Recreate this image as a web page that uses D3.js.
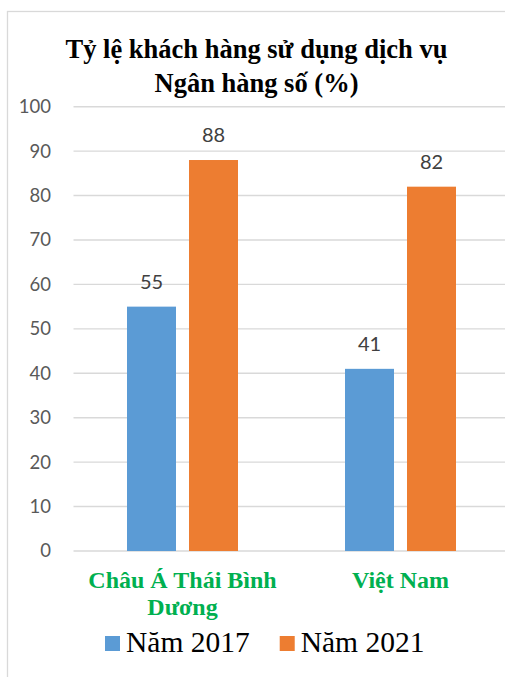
<!DOCTYPE html>
<html>
<head>
<meta charset="utf-8">
<script src="https://cdn.jsdelivr.net/npm/d3@7"></script>
<style>
  html, body { margin: 0; padding: 0; background: #ffffff; }
  svg { display: block; }
</style>
</head>
<body>
<svg id="chart" width="505" height="677"></svg>
<script>
// ---- data ----
const titleLines = ["Tỷ lệ khách hàng sử dụng dịch vụ", "Ngân hàng số (%)"];
const categories = ["Châu Á Thái Bình Dương", "Việt Nam"];
const seriesNames = ["Năm 2017", "Năm 2021"];
const values2017 = [55, 41];
const values2021 = [88, 82];
const yTicks = [0, 10, 20, 30, 40, 50, 60, 70, 80, 90, 100];
const seriesColors = ["#5b9bd5", "#ed7d31"];

const seriesValues = [values2017, values2021];
const rows = categories.map((c, i) => ({
  category: c,
  values: seriesNames.map((s, j) => ({ series: s, value: seriesValues[j][i], color: seriesColors[j] }))
}));

const svg = d3.select("#chart");

// chart frame (extends past the right and bottom edges)
svg.append("rect")
  .attr("x", 7.5).attr("y", 11.5)
  .attr("width", 520).attr("height", 700)
  .attr("fill", "#ffffff")
  .attr("stroke", "#d9d9d9").attr("stroke-width", 1.3);

const plotLeft = 73.5, plotRight = 509.5;
const y = d3.scaleLinear().domain([0, 100]).range([551, 106.7]);
const x = d3.scaleBand().domain(categories).range([plotLeft, plotRight])
  .paddingInner(107 / 218).paddingOuter(107 / 436);
const xs = d3.scaleBand().domain(seriesNames).range([0, x.bandwidth()]).paddingInner(13 / 62);

// gridlines
svg.append("g").selectAll("line").data(yTicks).join("line")
  .attr("x1", plotLeft).attr("x2", 505)
  .attr("y1", d => y(d)).attr("y2", d => y(d))
  .attr("stroke", "#d9d9d9").attr("stroke-width", 1.4);

// y axis labels
const yAxis = d3.axisLeft(y).tickValues(yTicks).tickSize(0).tickPadding(0).tickFormat(d3.format("d"));
const gy = svg.append("g").attr("transform", "translate(51,0)").call(yAxis);
gy.select(".domain").remove();
gy.selectAll("text")
  .attr("font-family", "Lato, 'Open Sans', sans-serif")
  .attr("font-size", 18.5)
  .attr("fill", "#595959");

// bars
const groups = svg.append("g").selectAll("g").data(rows).join("g")
  .attr("transform", d => `translate(${x(d.category)},0)`);
groups.selectAll("rect").data(d => d.values).join("rect")
  .attr("x", d => xs(d.series))
  .attr("width", xs.bandwidth())
  .attr("y", d => y(d.value))
  .attr("height", d => y(0) - y(d.value))
  .attr("fill", d => d.color);

// value labels
groups.selectAll("text").data(d => d.values).join("text")
  .attr("x", d => xs(d.series) + xs.bandwidth() / 2)
  .attr("y", d => y(d.value) - 18)
  .attr("text-anchor", "middle")
  .attr("font-family", "Lato, 'Open Sans', sans-serif")
  .attr("font-size", 20)
  .attr("fill", "#404040")
  .text(d => d.value);

// x axis category labels (wrapped)
const xAxis = d3.axisBottom(x).tickSize(0).tickPadding(0);
const gx = svg.append("g").attr("transform", "translate(0,587.5)").call(xAxis);
gx.select(".domain").remove();
gx.selectAll("text")
  .attr("font-family", "'Liberation Serif', 'Times New Roman', serif")
  .attr("font-weight", "bold")
  .attr("font-size", 24)
  .attr("fill", "#00b050")
  .attr("dy", null)
  .attr("y", 0)
  .each(function(d) {
    const t = d3.select(this);
    const words = d.split(" ");
    t.text(null);
    let line = [];
    let tspan = t.append("tspan").attr("x", 0).attr("dy", 0);
    words.forEach(w => {
      line.push(w);
      tspan.text(line.join(" "));
      if (tspan.node().getComputedTextLength() > 205 && line.length > 1) {
        line.pop();
        tspan.text(line.join(" "));
        line = [w];
        tspan = t.append("tspan").attr("x", 0).attr("dy", 27.5).text(w);
      }
    });
  });

// title
const title = svg.append("text")
  .attr("text-anchor", "middle")
  .attr("font-family", "'Liberation Serif', 'Times New Roman', serif")
  .attr("font-weight", "bold")
  .attr("font-size", 26.5)
  .attr("fill", "#000000");
title.selectAll("tspan").data(titleLines).join("tspan")
  .attr("x", 256.5)
  .attr("y", (d, i) => 57.5 + i * 34)
  .text(d => d);

// legend
const legend = svg.append("g");
const legendItems = legend.selectAll("g").data(seriesNames).join("g");
legendItems.append("rect")
  .attr("width", 15).attr("height", 15)
  .attr("y", 636)
  .attr("fill", (d, i) => seriesColors[i]);
legendItems.append("text")
  .attr("x", 21)
  .attr("y", 651.5)
  .attr("font-family", "'Liberation Serif', 'Times New Roman', serif")
  .attr("font-size", 29.5)
  .attr("fill", "#000000")
  .text(d => d);
let lx = 105;
legendItems.each(function() {
  const g = d3.select(this);
  g.attr("transform", `translate(${lx},0)`);
  lx += 21 + g.select("text").node().getComputedTextLength() + 30;
});
</script>
</body>
</html>
